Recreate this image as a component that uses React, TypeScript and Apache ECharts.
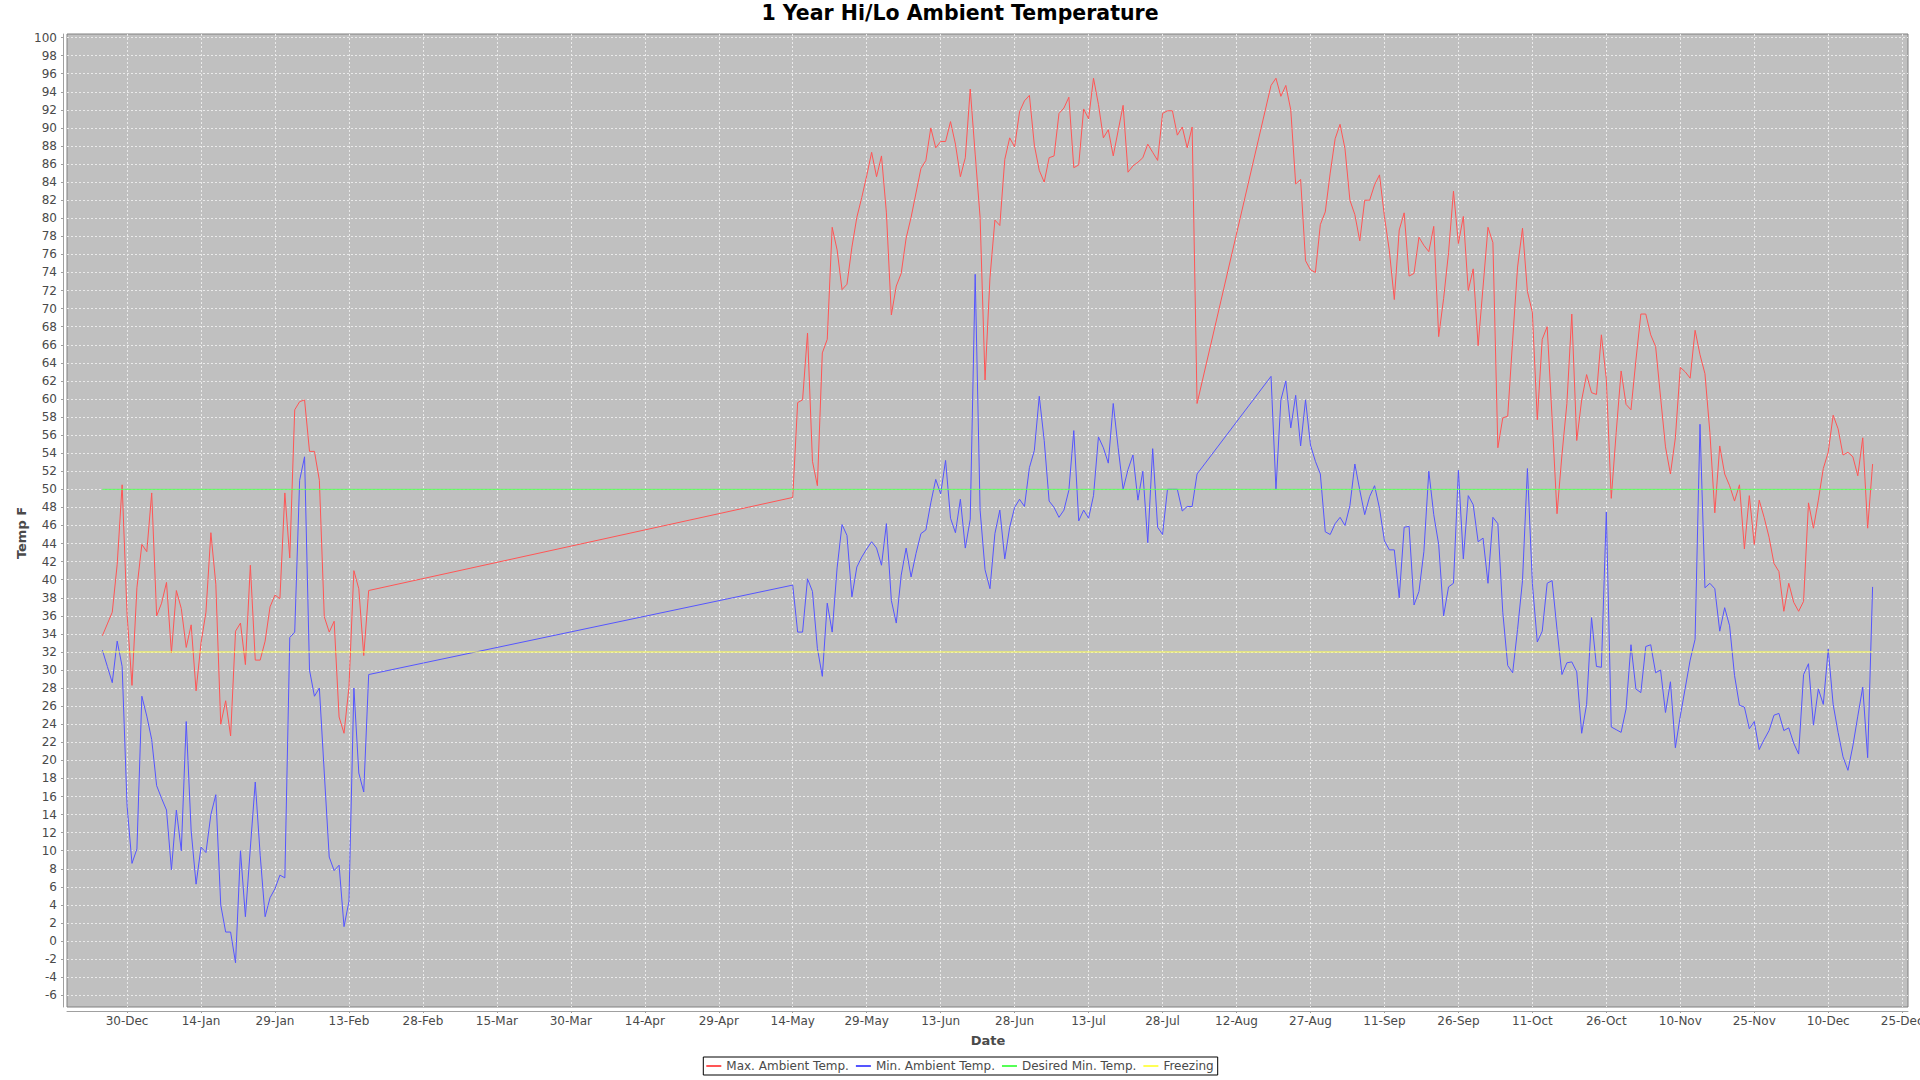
import React, { useEffect, useRef } from "react";
import * as echarts from "echarts";

// ---------- data ----------
const MONTHS = ["Jan", "Feb", "Mar", "Apr", "May", "Jun", "Jul", "Aug", "Sep", "Oct", "Nov", "Dec"];

// Daily readings, three recorded stretches (consecutive days from each start date)
const seg1Start = "2014-12-25";
const maxSeg1 = [
  33.8, 35.1, 36.4, 41.7, 50.5, 36.2, 28.3, 39.1, 43.9, 43.1, 49.6, 36.0, 37.4, 39.7, 31.9, 38.8, 36.8, 32.5, 35.0, 27.7,
  33.0, 36.4, 45.2, 39.5, 24.0, 26.6, 22.7, 34.3, 35.2, 30.6, 41.6, 31.1, 31.1, 33.2, 37.0, 38.3, 37.9, 49.6, 42.4, 58.8,
  59.7, 59.9, 54.2, 54.2, 51.0, 35.9, 34.2, 35.4, 24.8, 23.0, 28.1, 41.0, 39.0, 31.6, 38.8,
];
const minSeg1 = [
  32.2, 30.4, 28.6, 33.2, 30.4, 15.0, 8.6, 10.2, 27.1, 24.9, 22.3, 17.2, 15.8, 14.5, 7.9, 14.5, 10.0, 24.3, 12.2, 6.3,
  10.4, 9.8, 14.0, 16.2, 4.0, 1.0, 1.0, -2.4, 10.0, 2.7, 10.3, 17.6, 9.5, 2.7, 4.8, 5.8, 7.3, 7.0, 33.6, 34.2,
  51.0, 53.6, 30.0, 27.1, 28.0, 18.6, 9.3, 7.8, 8.4, 1.6, 4.4, 28.0, 18.6, 16.5, 29.5,
];

const seg2Start = "2015-05-14";
const maxSeg2 = [
  49.1, 59.6, 59.9, 67.3, 53.1, 50.4, 65.1, 66.6, 79.0, 76.5, 72.1, 72.7, 76.8, 80.1, 82.3, 84.7, 87.3, 84.6, 86.9, 80.6,
  69.3, 72.5, 73.9, 77.8, 80.1, 82.8, 85.5, 86.4, 90.0, 87.8, 88.5, 88.5, 90.7, 88.2, 84.6, 86.7, 94.3, 87.1, 80.1, 62.1,
  73.4, 79.8, 79.2, 86.5, 88.9, 87.9, 91.8, 93.0, 93.6, 88.1, 85.3, 84.0, 86.7, 86.9, 91.6, 92.2, 93.4, 85.6, 85.9, 92.1,
  91.0, 95.5, 92.6, 88.9, 89.8, 86.9, 89.7, 92.5, 85.1, 85.8, 86.2, 86.7, 88.2, 87.3, 86.4, 91.6, 91.9, 91.9, 89.2, 90.1,
  87.8, 90.1, 59.5,
];
const minSeg2 = [
  39.4, 34.2, 34.2, 40.1, 38.7, 32.4, 29.3, 37.4, 34.2, 41.3, 46.1, 44.9, 38.1, 41.4, 42.5, 43.4, 44.2, 43.5, 41.6, 46.2,
  37.7, 35.2, 40.5, 43.5, 40.3, 42.9, 45.1, 45.5, 48.5, 51.1, 49.5, 53.2, 46.8, 45.2, 48.9, 43.5, 46.7, 73.8, 47.7, 41.1,
  39.0, 45.1, 47.7, 42.3, 45.8, 48.0, 48.9, 48.1, 52.4, 54.3, 60.3, 55.4, 48.7, 48.0, 46.9, 47.7, 49.9, 56.5, 46.5, 47.7,
  46.8, 49.3, 55.8, 54.6, 52.9, 59.5, 54.6, 50.0, 52.2, 53.8, 48.8, 52.0, 44.1, 54.5, 45.8, 45.0, 50.0, 50.0, 50.0, 47.6,
  48.1, 48.1, 51.7,
];

const seg3Start = "2015-08-19";
const maxSeg3 = [
  94.7, 95.5, 93.5, 94.7, 92.0, 83.8, 84.3, 75.3, 74.3, 74.0, 79.3, 80.7, 85.0, 88.8, 90.4, 87.7, 82.0, 80.4, 77.5, 82.0,
  82.0, 83.7, 84.8, 80.2, 76.4, 71.0, 78.7, 80.6, 73.6, 73.9, 77.9, 77.0, 76.3, 79.1, 66.9, 71.1, 76.2, 83.0, 77.2, 80.2,
  72.0, 74.4, 65.9, 72.4, 79.0, 77.3, 54.6, 57.9, 58.1, 66.5, 74.6, 78.9, 71.9, 69.6, 57.7, 66.6, 68.0, 57.9, 47.3, 53.8,
  59.5, 69.4, 55.4, 59.9, 62.7, 60.7, 60.5, 67.1, 62.2, 49.0, 56.3, 63.1, 59.4, 58.8, 64.3, 69.4, 69.4, 67.1, 65.8, 60.2,
  54.7, 51.7, 55.7, 63.5, 63.0, 62.3, 67.6, 64.9, 62.8, 56.3, 47.4, 54.8, 51.7, 50.4, 48.7, 50.5, 43.4, 49.3, 43.9, 48.8,
  46.9, 44.7, 41.8, 40.9, 36.5, 39.6, 37.5, 36.5, 37.6, 48.5, 45.7, 48.8, 52.3, 54.1, 58.2, 56.7, 53.8, 54.1, 53.6, 51.5,
  55.7, 45.7, 52.8,
];
const minSeg3 = [
  62.5, 50.0, 59.9, 62.0, 56.8, 60.4, 54.8, 59.9, 54.9, 53.1, 51.7, 45.3, 45.0, 46.2, 46.9, 46.0, 48.2, 52.8, 49.9, 47.2,
  49.2, 50.4, 47.9, 44.3, 43.3, 43.3, 38.0, 45.8, 45.9, 37.2, 38.7, 43.1, 52.0, 47.2, 43.9, 36.0, 39.2, 39.6, 52.1, 42.3,
  49.3, 48.3, 44.2, 44.6, 39.6, 46.9, 46.2, 36.4, 30.5, 29.7, 34.5, 39.9, 52.3, 39.6, 33.1, 34.3, 39.6, 39.9, 34.5, 29.5,
  30.8, 30.9, 29.8, 23.0, 26.2, 35.8, 30.4, 30.3, 47.5, 23.7, 23.4, 23.1, 25.7, 32.8, 27.9, 27.5, 32.6, 32.8, 29.7, 30.0,
  25.3, 28.7, 21.4, 24.9, 28.0, 31.1, 33.4, 57.2, 39.1, 39.6, 39.0, 34.3, 36.9, 34.9, 29.4, 26.1, 25.9, 23.5, 24.3, 21.2,
  22.3, 23.3, 25.0, 25.2, 23.3, 23.6, 21.9, 20.7, 29.5, 30.7, 23.9, 27.9, 26.2, 32.3, 26.2, 23.1, 20.4, 18.9, 21.6, 24.9,
  28.1, 20.3, 39.2,
];

const desiredMinTemp = 50;
const freezingTemp = 32;

const seriesNames = ["Max. Ambient Temp.", "Min. Ambient Temp.", "Desired Min. Temp.", "Freezing"];
const seriesColors = ["#FF5555", "#5555FF", "#55FF55", "#FFFF55"];

const tickDates = [
  "2014-12-30", "2015-01-14", "2015-01-29", "2015-02-13", "2015-02-28", "2015-03-15", "2015-03-30", "2015-04-14",
  "2015-04-29", "2015-05-14", "2015-05-29", "2015-06-13", "2015-06-28", "2015-07-13", "2015-07-28", "2015-08-12",
  "2015-08-27", "2015-09-11", "2015-09-26", "2015-10-11", "2015-10-26", "2015-11-10", "2015-11-25", "2015-12-10",
  "2015-12-25",
];
const yTicks = [
  -6, -4, -2, 0, 2, 4, 6, 8, 10, 12, 14, 16, 18, 20, 22, 24, 26, 28, 30, 32, 34, 36, 38, 40, 42, 44, 46, 48, 50, 52, 54,
  56, 58, 60, 62, 64, 66, 68, 70, 72, 74, 76, 78, 80, 82, 84, 86, 88, 90, 92, 94, 96, 98, 100,
];

// ---------- helpers ----------
function ts(date: string, offsetDays = 0): number {
  const [y, m, d] = date.split("-").map(Number);
  return Date.UTC(y, m - 1, d + offsetDays);
}
function segPoints(start: string, vals: number[]): [number, number][] {
  return vals.map((v, i) => [ts(start, i), v]);
}
function fmtDate(v: number): string {
  const d = new Date(v);
  return `${d.getUTCDate()}-${MONTHS[d.getUTCMonth()]}`;
}

const FONT = "DejaVu Sans";
const LABEL_COLOR = "#4a4a4a";

export default function App() {
  const ref = useRef<HTMLDivElement>(null);

  useEffect(() => {
    if (!ref.current) return;
    const chart = echarts.init(ref.current, undefined, { renderer: "svg" });

    const maxData = [...segPoints(seg1Start, maxSeg1), ...segPoints(seg2Start, maxSeg2), ...segPoints(seg3Start, maxSeg3)];
    const minData = [...segPoints(seg1Start, minSeg1), ...segPoints(seg2Start, minSeg2), ...segPoints(seg3Start, minSeg3)];
    const firstTs = maxData[0][0];
    const lastTs = maxData[maxData.length - 1][0];
    const span = lastTs - firstTs;
    const xMin = firstTs - span * 0.02;
    const xMax = lastTs + span * 0.02;

    const allVals = [...maxSeg1, ...maxSeg2, ...maxSeg3, ...minSeg1, ...minSeg2, ...minSeg3];
    const vMin = Math.min(...allVals);
    const vMax = Math.max(...allVals);
    const vSpan = vMax - vMin;
    const yMin = vMin - vSpan * 0.05;
    const yMax = vMax + vSpan * 0.05;

    const tickTs = tickDates.map((d) => ts(d));

    const lineSeries = (name: string, color: string, data: [number, number][]) => ({
      name,
      type: "line",
      data,
      showSymbol: false,
      symbol: "none",
      lineStyle: { color, width: 1 },
      itemStyle: { color },
      emphasis: { disabled: true },
    });

    const option: any = {
      animation: false,
      textStyle: { fontFamily: FONT },
      grid: {
        left: 67,
        top: 34,
        width: 1841,
        height: 973,
        show: true,
        containLabel: false,
        outerBoundsMode: "none",
        backgroundColor: "#c0c0c0",
        borderColor: "#808080",
        borderWidth: 1,
      },
      xAxis: {
        type: "value",
        min: xMin,
        max: xMax,
        offset: 4,
        axisLine: { show: true, onZero: false, lineStyle: { color: "#a0a0a0", width: 1 } },
        axisTick: { show: true, length: 2, customValues: tickTs, lineStyle: { color: "#a0a0a0" } },
        axisLabel: {
          customValues: tickTs,
          formatter: (v: number) => fmtDate(v),
          color: LABEL_COLOR,
          fontSize: 12,
          fontFamily: FONT,
          margin: 4,
          hideOverlap: false,
        },
        splitLine: { show: true, lineStyle: { color: "#eaeaea", width: 1, type: [2, 2] } },
      },
      yAxis: {
        type: "value",
        min: yMin,
        max: yMax,
        offset: 4,
        axisLine: { show: true, onZero: false, lineStyle: { color: "#a0a0a0", width: 1 } },
        axisTick: { show: true, length: 2, customValues: yTicks, lineStyle: { color: "#a0a0a0" } },
        axisLabel: { customValues: yTicks, color: LABEL_COLOR, fontSize: 12, fontFamily: FONT, margin: 6 },
        splitLine: { show: true, lineStyle: { color: "#eaeaea", width: 1, type: [2, 2] } },
      },
      legend: {
        data: seriesNames,
        left: "center",
        top: 1057,
        icon: "rect",
        itemWidth: 15,
        itemHeight: 2,
        itemGap: 7,
        padding: [3, 4, 3, 3],
        borderColor: "#000",
        borderWidth: 1,
        textStyle: { color: LABEL_COLOR, fontSize: 12, fontFamily: FONT },
      },
      graphic: [
        {
          type: "text",
          x: 960,
          y: 13,
          style: {
            text: "1 Year Hi/Lo Ambient Temperature",
            fontFamily: FONT,
            fontWeight: "bold",
            fontSize: 20.5,
            fill: "#000",
            textAlign: "center",
            textVerticalAlign: "middle",
          },
        },
        {
          type: "text",
          x: 988,
          y: 1040,
          style: {
            text: "Date",
            fontFamily: FONT,
            fontWeight: "bold",
            fontSize: 13,
            fill: LABEL_COLOR,
            textAlign: "center",
            textVerticalAlign: "middle",
          },
        },
        {
          type: "text",
          x: 21,
          y: 533,
          rotation: Math.PI / 2,
          style: {
            text: "Temp F",
            fontFamily: FONT,
            fontWeight: "bold",
            fontSize: 13,
            fill: LABEL_COLOR,
            textAlign: "center",
            textVerticalAlign: "middle",
          },
        },
      ],
      series: [
        lineSeries(seriesNames[0], seriesColors[0], maxData),
        lineSeries(seriesNames[1], seriesColors[1], minData),
        lineSeries(seriesNames[2], seriesColors[2], [
          [firstTs, desiredMinTemp],
          [lastTs, desiredMinTemp],
        ]),
        lineSeries(seriesNames[3], seriesColors[3], [
          [firstTs, freezingTemp],
          [lastTs, freezingTemp],
        ]),
      ],
    };

    chart.setOption(option);
    return () => chart.dispose();
  }, []);

  return (
    <div
      ref={ref}
      style={{ position: "fixed", left: 0, top: 0, width: 1920, height: 1080, background: "#fff" }}
    />
  );
}
